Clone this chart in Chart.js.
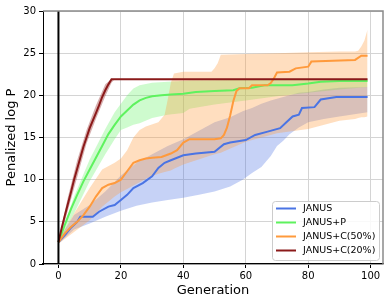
<!DOCTYPE html>
<html>
<head>
<meta charset="utf-8">
<script src="https://cdn.jsdelivr.net/npm/chart.js@4.4.0/dist/chart.umd.min.js"></script>
<style>
  html, body { margin: 0; padding: 0; background: #fff; }
  #chart { display: block; }
</style>
</head>
<body>
<canvas id="chart" width="391" height="305"></canvas>
<script>
const X_TICKS = [0, 20, 40, 60, 80, 100];
const Y_TICKS = [0, 5, 10, 15, 20, 25, 30];
const SERIES_NAMES = ['JANUS', 'JANUS+P', 'JANUS+C(50%)', 'JANUS+C(20%)'];

// JANUS
const janusGen  = [0, 2, 4, 6, 7, 11, 13, 16, 18, 20, 22, 24, 27, 30, 32, 34, 36, 40, 44, 50, 53, 55, 60, 63, 67, 71, 73, 75, 77, 78, 82, 84, 89, 99];
const janusMean = [2.6, 3.4, 4.3, 5.0, 5.6, 5.6, 6.2, 6.8, 7.0, 7.6, 8.2, 9.0, 9.6, 10.4, 11.4, 12.0, 12.3, 12.9, 13.1, 13.3, 14.2, 14.4, 14.7, 15.3, 15.7, 16.1, 16.8, 17.5, 17.7, 18.5, 18.6, 19.5, 19.8, 19.8];
const janusBandGen = [0, 5, 10, 15, 20, 25, 30, 35, 40, 45, 50, 55, 59, 62, 65, 68, 70, 72, 74, 77, 80, 85, 90, 99];
const janusHigh = [2.8, 5.8, 7.0, 8.6, 10.5, 12.0, 13.0, 14.0, 14.8, 15.8, 16.8, 17.4, 18.1, 18.5, 19.0, 19.4, 19.6, 19.8, 20.0, 20.3, 20.4, 20.7, 20.9, 21.0];
const janusLow  = [2.4, 4.1, 4.8, 5.6, 6.3, 6.9, 7.3, 7.6, 7.85, 8.2, 8.6, 9.2, 10.0, 10.8, 11.5, 12.8, 14.0, 14.6, 15.4, 16.2, 16.8, 17.2, 17.5, 18.0];

// JANUS+P
const pGen  = [0, 2, 4, 6, 8, 10, 12, 14, 16, 18, 20, 22, 24, 26, 28, 30, 33, 36, 40, 44, 50, 56, 58, 62, 66, 70, 75, 80, 84, 90, 99];
const pMean = [2.6, 4.6, 6.5, 8.2, 9.8, 11.2, 12.6, 14.0, 15.4, 16.5, 17.5, 18.2, 18.9, 19.4, 19.7, 19.9, 20.0, 20.1, 20.2, 20.4, 20.5, 20.6, 20.85, 20.9, 21.2, 21.2, 21.2, 21.4, 21.6, 21.7, 21.7];
const pBandGen = [0, 5, 10, 15, 18, 20, 22, 24, 26, 30, 35, 40, 42, 50, 60, 70, 80, 90, 99];
const pHigh = [2.8, 8.0, 12.4, 16.0, 18.0, 19.0, 20.0, 20.8, 21.2, 21.5, 21.6, 21.7, 21.75, 21.8, 21.85, 21.9, 21.9, 21.9, 21.9];
const pLow  = [2.4, 6.0, 9.8, 13.0, 14.8, 15.9, 16.2, 16.5, 16.7, 17.3, 17.7, 17.9, 18.4, 18.9, 19.4, 19.9, 20.3, 20.7, 21.0];

// JANUS+C(50%)
const c50Gen  = [0, 2, 4, 6, 8, 10, 12, 14, 16, 18, 20, 22, 24, 26, 28, 30, 33, 36, 38, 40, 42, 50, 52, 53, 54, 55, 56, 57, 58, 61, 62, 67, 68, 69, 70, 74, 76, 80, 81, 95, 97, 99];
const c50Mean = [2.6, 3.6, 4.4, 5.0, 5.8, 6.8, 8.0, 9.0, 9.4, 9.6, 10.0, 11.0, 12.0, 12.3, 12.5, 12.6, 12.7, 13.1, 13.5, 14.4, 14.8, 14.8, 14.9, 15.3, 16.2, 17.6, 19.3, 20.5, 20.85, 20.85, 21.2, 21.2, 21.45, 22.0, 22.7, 22.8, 23.2, 23.4, 24.0, 24.2, 24.7, 24.7];
const c50BandGen = [0, 5, 10, 14, 18, 20, 22, 24, 26, 28, 32, 34, 35, 36, 37, 40, 49, 50, 51, 52, 60, 70, 80, 90, 95, 96, 97, 98, 99];
const c50High = [2.8, 6.0, 9.0, 11.2, 12.0, 12.5, 13.5, 15.0, 15.9, 16.3, 16.8, 17.7, 19.5, 21.5, 22.6, 22.8, 22.8, 23.2, 23.8, 24.8, 24.9, 25.0, 25.1, 25.2, 25.2, 25.3, 25.8, 26.5, 27.8];
const c50Low  = [2.4, 3.8, 5.2, 6.8, 8.0, 8.5, 8.9, 9.3, 9.7, 10.1, 10.7, 10.9, 11.0, 11.1, 11.3, 11.8, 12.9, 13.0, 13.1, 13.2, 14.5, 15.5, 16.0, 17.0, 17.2, 17.3, 17.4, 17.4, 17.5];

// JANUS+C(20%)
const c20Gen  = [0, 1, 2, 3, 4, 5, 6, 7, 8, 9, 10, 11, 12, 13, 14, 15, 16, 17, 99];
const c20Mean = [2.6, 4.2, 5.7, 7.1, 8.5, 10.0, 11.3, 12.6, 13.9, 15.0, 16.1, 17.0, 17.9, 18.8, 19.8, 20.6, 21.3, 21.9, 21.9];
const c20BandGen = [0, 3, 6, 9, 12, 15, 17, 18, 99];
const c20High = [2.8, 7.9, 12.3, 15.9, 18.8, 21.3, 21.95, 21.95, 21.95];
const c20Low  = [2.4, 6.3, 10.3, 14.3, 17.2, 19.9, 21.5, 21.9, 21.9];

const LINE_COLORS = ['#4a74e4', '#5ef25e', '#ff9a3c', '#8b1a1a'];
const BAND_COLORS = ['rgba(65,105,225,0.30)', 'rgba(94,242,94,0.30)', 'rgba(255,154,60,0.33)', 'rgba(139,26,26,0.35)'];

const FONT = 'DejaVu Sans';

const toPoints = (xs, ys) => xs.map((g, i) => ({ x: g, y: ys[i] }));

const series = [
  { gen: janusGen, mean: janusMean, bandGen: janusBandGen, high: janusHigh, low: janusLow },
  { gen: pGen, mean: pMean, bandGen: pBandGen, high: pHigh, low: pLow },
  { gen: c50Gen, mean: c50Mean, bandGen: c50BandGen, high: c50High, low: c50Low },
  { gen: c20Gen, mean: c20Mean, bandGen: c20BandGen, high: c20High, low: c20Low }
];

const datasets = [];
// bands first: upper fills down to the lower edge right after it
series.forEach((s, i) => {
  datasets.push({
    label: SERIES_NAMES[i] + ' high',
    data: toPoints(s.bandGen, s.high),
    borderWidth: 0,
    borderColor: 'rgba(0,0,0,0)',
    backgroundColor: BAND_COLORS[i],
    pointRadius: 0,
    fill: '+1',
    order: 20 - i
  });
  datasets.push({
    label: SERIES_NAMES[i] + ' low',
    data: toPoints(s.bandGen, s.low),
    borderWidth: 0,
    borderColor: 'rgba(0,0,0,0)',
    pointRadius: 0,
    fill: false,
    order: 20 - i
  });
});
series.forEach((s, i) => {
  datasets.push({
    label: SERIES_NAMES[i],
    data: toPoints(s.gen, s.mean),
    borderColor: LINE_COLORS[i],
    borderWidth: 2,
    pointRadius: 0,
    fill: false,
    tension: 0,
    order: 3 - i
  });
});

const framePlugin = {
  id: 'frame',
  afterDatasetsDraw(chart) {
    const { ctx, chartArea: a, scales: { x } } = chart;
    ctx.save();
    // vertical line at generation 0
    const x0 = x.getPixelForValue(0);
    ctx.strokeStyle = '#000';
    ctx.lineWidth = 2;
    ctx.beginPath();
    ctx.moveTo(x0, a.top);
    ctx.lineTo(x0, a.bottom);
    ctx.stroke();
    // grey top and right spines
    ctx.strokeStyle = '#8a8a8a';
    ctx.lineWidth = 1.5;
    ctx.beginPath();
    ctx.moveTo(a.left, a.top);
    ctx.lineTo(a.right, a.top);
    ctx.lineTo(a.right, a.bottom);
    ctx.stroke();
    ctx.restore();
  },
  afterDraw(chart) {
    const { ctx, chartArea: a } = chart;
    const w = 107, h = 59;
    const left = a.right - 4 - w, top = a.bottom - 4 - h;
    ctx.save();
    ctx.fillStyle = 'rgba(255,255,255,0.85)';
    ctx.strokeStyle = '#cccccc';
    ctx.lineWidth = 1;
    ctx.beginPath();
    ctx.roundRect(left + 0.5, top + 0.5, w, h, 3);
    ctx.fill();
    ctx.stroke();
    ctx.font = '9.5px "' + FONT + '"';
    ctx.textBaseline = 'middle';
    ctx.fillStyle = '#000';
    SERIES_NAMES.forEach((name, i) => {
      const y = top + 7.5 + i * 14;
      ctx.strokeStyle = LINE_COLORS[i];
      ctx.lineWidth = 2;
      ctx.beginPath();
      ctx.moveTo(left + 4, y);
      ctx.lineTo(left + 24, y);
      ctx.stroke();
      ctx.fillText(name, left + 31, y + 0.5);
    });
    ctx.restore();
  }
};

new Chart(document.getElementById('chart'), {
  type: 'line',
  data: { datasets },
  options: {
    responsive: false,
    animation: false,
    devicePixelRatio: 1,
    layout: { padding: { top: 11, right: 8, left: 0, bottom: 0 } },
    scales: {
      x: {
        type: 'linear',
        min: -4.95,
        max: 103.95,
        afterBuildTicks: s => { s.ticks = X_TICKS.map(v => ({ value: v })); },
        afterFit: s => { s.height = 41; },
        grid: { color: '#d4d4d4', lineWidth: 1, tickColor: '#000', tickLength: 4, tickWidth: 1 },
        border: { color: '#000', width: 1.2 },
        ticks: { color: '#000', font: { family: FONT, size: 10 }, padding: 2, maxRotation: 0, autoSkip: false },
        title: { display: true, text: 'Generation', color: '#000', font: { family: FONT, size: 13 }, padding: { top: 0, bottom: 7 } }
      },
      y: {
        type: 'linear',
        min: 0,
        max: 30,
        afterBuildTicks: s => { s.ticks = Y_TICKS.map(v => ({ value: v })); },
        afterFit: s => { s.width = 43; },
        grid: { color: '#d4d4d4', lineWidth: 1, tickColor: '#000', tickLength: 4, tickWidth: 1 },
        border: { color: '#000', width: 1 },
        ticks: { color: '#000', font: { family: FONT, size: 10 }, padding: 3, autoSkip: false },
        title: { display: true, text: 'Penalized log P', color: '#000', font: { family: FONT, size: 13 }, padding: { top: 4, bottom: 0 } }
      }
    },
    plugins: {
      legend: { display: false },
      tooltip: { enabled: false }
    }
  },
  plugins: [framePlugin]
});
</script>
</body>
</html>
